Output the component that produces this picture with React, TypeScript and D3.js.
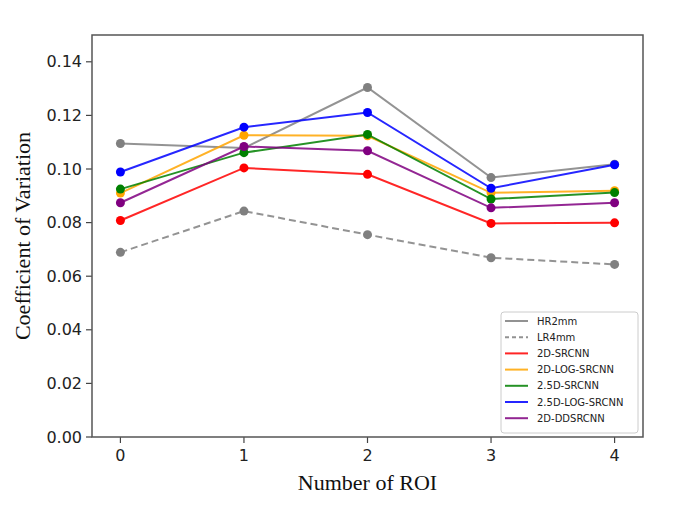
import React, { useEffect, useRef } from "react";
import * as d3 from "d3";

const rois = [0, 1, 2, 3, 4];
const yTicks = [0, 0.02, 0.04, 0.06, 0.08, 0.1, 0.12, 0.14];

const hr2mm = [0.1095, 0.1078, 0.1304, 0.0968, 0.1018];
const lr4mm = [0.0689, 0.0843, 0.0755, 0.0669, 0.0644];
const srcnn2d = [0.0808, 0.1004, 0.098, 0.0797, 0.0799];
const logSrcnn2d = [0.091, 0.1126, 0.1124, 0.0911, 0.0919];
const srcnn25d = [0.0925, 0.1061, 0.1129, 0.0888, 0.0912];
const logSrcnn25d = [0.0989, 0.1156, 0.1211, 0.0928, 0.1016];
const ddsrcnn2d = [0.0874, 0.1084, 0.1068, 0.0855, 0.0874];

const series = [
  { name: "HR2mm", values: hr2mm, color: "#808080", dash: "" },
  { name: "LR4mm", values: lr4mm, color: "#808080", dash: "7,4" },
  { name: "2D-SRCNN", values: srcnn2d, color: "#ff0000", dash: "" },
  { name: "2D-LOG-SRCNN", values: logSrcnn2d, color: "#ffa500", dash: "" },
  { name: "2.5D-SRCNN", values: srcnn25d, color: "#008000", dash: "" },
  { name: "2.5D-LOG-SRCNN", values: logSrcnn25d, color: "#0000ff", dash: "" },
  { name: "2D-DDSRCNN", values: ddsrcnn2d, color: "#800080", dash: "" },
];

export default function App() {
  const svgRef = useRef<SVGSVGElement>(null);

  useEffect(() => {
    const svg = d3.select(svgRef.current);
    svg.selectAll("*").remove();

    const left = 92, right = 643, top = 35, bottom = 437;
    const x = d3.scaleLinear().domain([-0.23, 4.23]).range([left, right]);
    const y = d3.scaleLinear().domain([0, 0.15]).range([bottom, top]);

    // y ticks
    const yg = svg.append("g");
    yTicks.forEach((t) => {
      yg.append("line")
        .attr("x1", left - 6).attr("x2", left)
        .attr("y1", y(t)).attr("y2", y(t))
        .attr("stroke", "#444").attr("stroke-width", 1.2);
      yg.append("text")
        .attr("x", left - 10).attr("y", y(t))
        .attr("dy", "0.35em")
        .attr("text-anchor", "end")
        .style("font-family", "DejaVu Sans")
        .style("font-size", "16px")
        .attr("fill", "#222")
        .text(t.toFixed(2));
    });

    // x ticks
    const xg = svg.append("g");
    rois.forEach((r) => {
      xg.append("line")
        .attr("x1", x(r)).attr("x2", x(r))
        .attr("y1", bottom).attr("y2", bottom + 6)
        .attr("stroke", "#444").attr("stroke-width", 1.2);
      xg.append("text")
        .attr("x", x(r)).attr("y", bottom + 24)
        .attr("text-anchor", "middle")
        .style("font-family", "DejaVu Sans")
        .style("font-size", "16px")
        .attr("fill", "#222")
        .text(String(r));
    });

    const line = d3
      .line<number>()
      .x((_, i) => x(rois[i]))
      .y((d) => y(d));

    series.forEach((s) => {
      svg.append("path")
        .datum(s.values)
        .attr("d", line)
        .attr("fill", "none")
        .attr("stroke", s.color)
        .attr("stroke-width", 2)
        .attr("stroke-dasharray", s.dash || null)
        .attr("opacity", 0.85);
      svg.append("g")
        .selectAll("circle")
        .data(s.values)
        .enter()
        .append("circle")
        .attr("cx", (_, i) => x(rois[i]))
        .attr("cy", (d) => y(d))
        .attr("r", 4.5)
        .attr("fill", s.color);
    });

    // frame
    svg.append("rect")
      .attr("x", left).attr("y", top)
      .attr("width", right - left).attr("height", bottom - top)
      .attr("fill", "none")
      .attr("stroke", "#555")
      .attr("stroke-width", 1.5);

    // legend
    const lg = svg.append("g");
    lg.append("rect")
      .attr("x", 501).attr("y", 312)
      .attr("width", 137).attr("height", 121)
      .attr("rx", 3)
      .attr("fill", "white")
      .attr("fill-opacity", 0.85)
      .attr("stroke", "#ccc");
    series.forEach((s, i) => {
      const ly = 321 + i * 16.2;
      lg.append("line")
        .attr("x1", 505).attr("x2", 528)
        .attr("y1", ly).attr("y2", ly)
        .attr("stroke", s.color)
        .attr("stroke-width", 2)
        .attr("stroke-dasharray", s.dash ? "4,3" : null)
        .attr("opacity", 0.85);
      lg.append("text")
        .attr("x", 537).attr("y", ly)
        .attr("dy", "0.35em")
        .style("font-family", "DejaVu Sans")
        .style("font-size", "10px")
        .attr("fill", "#222")
        .text(s.name);
    });

    // axis titles
    svg.append("text")
      .attr("transform", `translate(30, ${(top + bottom) / 2 + 0}) rotate(-90)`)
      .attr("text-anchor", "middle")
      .style("font-family", "Liberation Serif")
      .style("font-size", "22px")
      .attr("fill", "#111")
      .text("Coefficient of Variation");
    svg.append("text")
      .attr("x", (left + right) / 2)
      .attr("y", 490)
      .attr("text-anchor", "middle")
      .style("font-family", "Liberation Serif")
      .style("font-size", "22px")
      .attr("fill", "#111")
      .text("Number of ROI");
  }, []);

  return (
    <svg
      ref={svgRef}
      width={685}
      height={506}
      style={{ position: "absolute", left: 0, top: 0, background: "white" }}
    />
  );
}
